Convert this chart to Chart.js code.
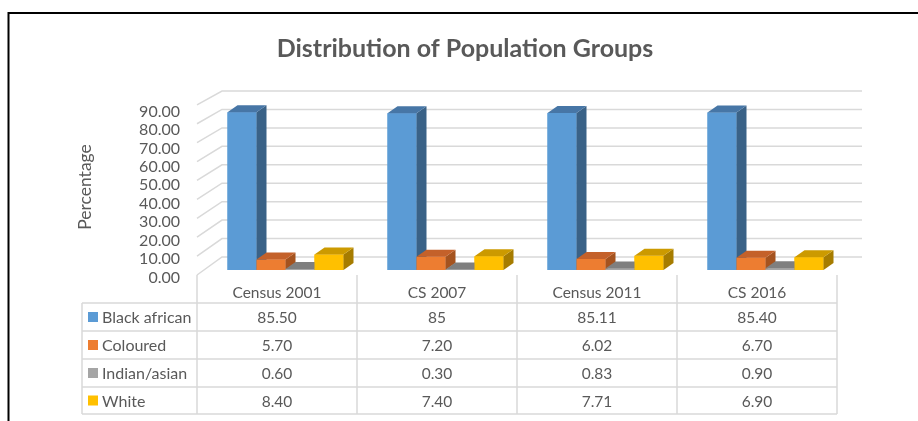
<!DOCTYPE html>
<html>
<head>
<meta charset="utf-8">
<script src="https://cdn.jsdelivr.net/npm/chart.js@4.4.1/dist/chart.umd.min.js"></script>
<style>
  html, body { margin: 0; padding: 0; background: #fff; }
  #wrap { width: 918px; height: 421px; }
</style>
</head>
<body>
<div id="wrap"><canvas id="chart" width="918" height="421"></canvas></div>
<script>
// ── data ────────────────────────────────────────────────
const categories = ['Census 2001', 'CS 2007', 'Census 2011', 'CS 2016'];
const seriesNames = ['Black african', 'Coloured', 'Indian/asian', 'White'];
const blackAfrican = [85.50, 85, 85.11, 85.40];
const coloured = [5.70, 7.20, 6.02, 6.70];
const indianAsian = [0.60, 0.30, 0.83, 0.90];
const white = [8.40, 7.40, 7.71, 6.90];
const yTicks = [0, 10, 20, 30, 40, 50, 60, 70, 80, 90];

// front / top / side shades, Excel default palette
const shades = [
  { front: '#5b9bd5', top: '#4776a6', side: '#3a6287' },
  { front: '#ed7d31', top: '#c4612a', side: '#a5531f' },
  { front: '#a5a5a5', top: '#7f7f7f', side: '#6a6a6a' },
  { front: '#ffc000', top: '#cc9a00', side: '#a67c00' }
];

const TEXT = '#595959';
const LINE = '#d9d9d9';
const FONT = 'Lato, "Open Sans", sans-serif';

const fmt = v => Number.isInteger(v) ? String(v) : v.toFixed(2);

// 3D geometry (pixels)
const DEPTH_X = 10, DEPTH_Y = -7;      // bar side depth
const FRONT_X = -8.5, BACK_X = 16.5;   // wall offsets vs bar plane

function frontY(scale, v) {
  const y0 = scale.getPixelForValue(0);
  return y0 + 5 + (scale.getPixelForValue(v) - y0) * 1.025;
}
function backY(scale, v) {
  return scale.getPixelForValue(v) - 13;
}

const bar3d = {
  id: 'bar3d',
  beforeDatasetsDraw(chart) {
    const { ctx, chartArea: a, scales: { y } } = chart;
    ctx.save();
    ctx.strokeStyle = LINE;
    ctx.lineWidth = 1.5;
    yTicks.forEach(v => {
      const fy = frontY(y, v), by = backY(y, v);
      ctx.beginPath();
      ctx.moveTo(a.left + FRONT_X, fy);
      ctx.lineTo(a.left + BACK_X, by);
      ctx.lineTo(a.right + BACK_X, by);
      ctx.stroke();
    });
    ctx.restore();
  },
  afterDatasetsDraw(chart) {
    const { ctx } = chart;
    const n = chart.data.labels.length;
    ctx.save();
    for (let c = 0; c < n; c++) {
      chart.data.datasets.forEach((ds, i) => {
        const el = chart.getDatasetMeta(i).data[c];
        const { x, y, base, width } = el.getProps(['x', 'y', 'base', 'width'], true);
        const l = x - width / 2, r = x + width / 2;
        const s = shades[i];
        ctx.fillStyle = s.front;
        ctx.fillRect(l, y, width, base - y);
        // side
        ctx.fillStyle = s.side;
        ctx.beginPath();
        ctx.moveTo(r, y); ctx.lineTo(r + DEPTH_X, y + DEPTH_Y);
        ctx.lineTo(r + DEPTH_X, base + DEPTH_Y); ctx.lineTo(r, base);
        ctx.closePath(); ctx.fill();
        // top
        ctx.fillStyle = s.top;
        ctx.beginPath();
        ctx.moveTo(l, y); ctx.lineTo(l + DEPTH_X, y + DEPTH_Y);
        ctx.lineTo(r + DEPTH_X, y + DEPTH_Y); ctx.lineTo(r, y);
        ctx.closePath(); ctx.fill();
      });
    }
    ctx.restore();
  },
  afterDraw(chart) {
    const { ctx, chartArea: a } = chart;
    const series = chart.data.datasets;
    const x0 = a.left + FRONT_X;
    const colW = (a.right - a.left) / chart.data.labels.length;
    const legendL = 82;
    const rows = [303, 331, 359, 387, 414];

    ctx.save();
    // table grid
    ctx.strokeStyle = LINE;
    ctx.lineWidth = 1.5;
    ctx.beginPath();
    for (let i = 0; i <= chart.data.labels.length; i++) {
      const x = x0 + i * colW;
      ctx.moveTo(x, 275); ctx.lineTo(x, rows[rows.length - 1]);
    }
    ctx.moveTo(legendL, rows[0]); ctx.lineTo(legendL, rows[rows.length - 1]);
    rows.forEach(r => {
      ctx.moveTo(legendL, r); ctx.lineTo(x0 + chart.data.labels.length * colW, r);
    });
    ctx.stroke();

    // header + values
    ctx.fillStyle = TEXT;
    ctx.font = '15.5px ' + FONT;
    ctx.textAlign = 'center';
    ctx.textBaseline = 'middle';
    chart.data.labels.forEach((lab, c) => {
      const cx = x0 + (c + 0.5) * colW;
      ctx.fillText(lab, cx, 293);
      series.forEach((ds, i) => {
        ctx.fillText(fmt(ds.data[c]), cx, (rows[i] + rows[i + 1]) / 2 + 1);
      });
    });

    // legend keys
    ctx.textAlign = 'left';
    ctx.font = '16px ' + FONT;
    series.forEach((ds, i) => {
      const cy = (rows[i] + rows[i + 1]) / 2;
      ctx.fillStyle = shades[i].front;
      ctx.fillRect(88, cy - 5, 10, 10);
      ctx.fillStyle = TEXT;
      ctx.fillText(ds.label, 102, cy + 1);
    });

    // title
    ctx.textAlign = 'center';
    ctx.textBaseline = 'alphabetic';
    ctx.font = 'bold 25px ' + FONT;
    ctx.fillText('Distribution of Population Groups', 465, 57);

    // outer frame
    ctx.strokeStyle = '#000';
    ctx.lineWidth = 2;
    ctx.beginPath();
    ctx.moveTo(8.5, 421); ctx.lineTo(8.5, 13); ctx.lineTo(918, 13);
    ctx.stroke();
    ctx.restore();
  }
};

new Chart(document.getElementById('chart'), {
  type: 'bar',
  data: {
    labels: categories,
    datasets: [blackAfrican, coloured, indianAsian, white].map((d, i) => ({
      label: seriesNames[i],
      data: d,
      backgroundColor: shades[i].front,
      borderWidth: 0,
      categoryPercentage: 0.725,
      barPercentage: 1
    }))
  },
  options: {
    responsive: false,
    animation: false,
    layout: { padding: { left: 71, right: 72.5, top: 104, bottom: 151 } },
    plugins: {
      legend: { display: false },
      tooltip: { enabled: false },
      title: { display: false }
    },
    scales: {
      x: { display: false },
      y: {
        min: 0,
        max: 90,
        afterFit: s => { s.width = 134.5; },
        afterBuildTicks: s => { s.ticks = yTicks.map(v => ({ value: v })); },
        grid: { display: false },
        border: { display: false },
        ticks: {
          autoSkip: false,
          padding: 17.5,
          labelOffset: 7.5,
          color: TEXT,
          font: { family: FONT, size: 16 },
          callback: v => Number(v).toFixed(2)
        },
        title: {
          display: true,
          text: 'Percentage',
          color: TEXT,
          font: { family: FONT, size: 17.5 }
        }
      }
    }
  },
  plugins: [bar3d]
});
</script>
</body>
</html>
